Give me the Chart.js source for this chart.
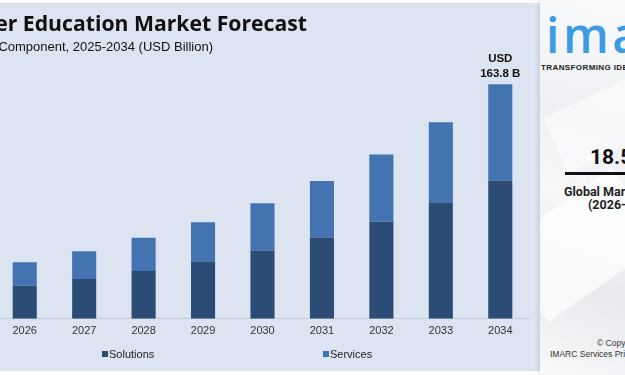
<!DOCTYPE html>
<html>
<head>
<meta charset="utf-8">
<script src="https://cdn.jsdelivr.net/npm/chart.js@4.4.1/dist/chart.umd.min.js"></script>
<style>
html, body { margin: 0; padding: 0; width: 625px; height: 375px; overflow: hidden; background: #ffffff; }
body { position: relative; font-family: "Liberation Sans", Arial, sans-serif; }
.bg { position: absolute; left: 0; top: 3px; width: 540px; height: 368px; background: #dce3f1; }
.chart-box { position: absolute; left: -5px; top: 0; width: 535px; height: 375px; }
.title { position: absolute; right: 318px; top: 9px; font: bold 21.2px "Open Sans", sans-serif; line-height: 27px; color: #111; white-space: nowrap; }
.subtitle { position: absolute; right: 412px; top: 38px; font: 13px "Liberation Sans", Arial, sans-serif; line-height: 17px; color: #111; white-space: nowrap; }
.panel { position: absolute; left: 540px; top: 0; width: 120px; height: 375px;
  background: linear-gradient(200deg, #fafbfc 0%, #eef0f3 35%, #f6f7f9 55%, #e7e9ed 75%, #f8f9fa 100%);
  box-shadow: -2px 0 4px rgba(60, 70, 90, 0.12); overflow: hidden; }
.panel .shape1 { position: absolute; left: -30px; top: 200px; width: 140px; height: 90px; background: rgba(255,255,255,0.7); transform: rotate(-35deg); }
.panel .shape2 { position: absolute; left: 10px; top: 90px; width: 120px; height: 60px; background: rgba(255,255,255,0.5); transform: rotate(-25deg); }
.logo { position: absolute; left: 6px; top: 5px; font: 600 48px "Open Sans", sans-serif; line-height: 60px; color: #3d9be6; letter-spacing: 3.5px; }
.tagline { position: absolute; left: 1px; top: 63px; font: bold 8px "Liberation Sans", sans-serif; color: #222; white-space: nowrap; letter-spacing: 0.4px; }
.big { position: absolute; left: 50px; top: 145px; font: bold 21px Roboto, sans-serif; line-height: 24px; color: #111; white-space: nowrap; }
.rule { position: absolute; left: 25px; top: 172px; width: 100px; height: 2.5px; background: #111; }
.growth { position: absolute; left: 24px; top: 184px; font: bold 12.5px Roboto, sans-serif; line-height: 16px; color: #222; white-space: nowrap; }
.years { position: absolute; left: 48px; top: 197px; font: bold 12.5px Roboto, sans-serif; line-height: 16px; color: #222; white-space: nowrap; }
.copy1 { position: absolute; left: 57px; top: 337px; font: 8.5px "Liberation Sans", sans-serif; line-height: 12px; color: #333; white-space: nowrap; }
.copy2 { position: absolute; left: 10px; top: 348px; font: 8.5px "Liberation Sans", sans-serif; line-height: 12px; color: #333; white-space: nowrap; }
</style>
</head>
<body>
<div class="bg"></div>
<div class="chart-box"><canvas id="chart"></canvas></div>
<div class="title">Higher Education Market Forecast</div>
<div class="subtitle">By Component, 2025-2034 (USD Billion)</div>
<div class="panel">
  <div class="shape2"></div>
  <div class="shape1"></div>
  <div class="logo">imarc</div>
  <div class="tagline">TRANSFORMING IDEAS INTO IMPACT</div>
  <div class="big">18.5%</div>
  <div class="rule"></div>
  <div class="growth">Global Market Growth Rate</div>
  <div class="years">(2026-2034)</div>
  <div class="copy1">© Copyright</div>
  <div class="copy2">IMARC Services Private Limited</div>
</div>
<script>
// values (USD Billion)
const years = ["2026", "2027", "2028", "2029", "2030", "2031", "2032", "2033", "2034"];
const solutions = [23.1, 27.8, 33.4, 39.7, 47.7, 56.8, 67.8, 80.8, 96.5];
const services = [16.4, 19.4, 23.2, 27.8, 32.9, 39.4, 46.9, 56.4, 67.3];
const series_names = ["Solutions", "Services"];
const series_colors = ["#2c4c75", "#4473b1"];

// label over the last bar
const topLabel = {
    id: 'topLabel',
    afterDatasetsDraw(chart) {
        const ctx = chart.ctx;
        const meta = chart.getDatasetMeta(1);
        const last = meta.data.length - 1;
        const bar = meta.data[last];
        const total = solutions[last] + services[last];
        ctx.save();
        ctx.fillStyle = "#111";
        ctx.font = "bold 11.5px 'Liberation Sans', Arial, sans-serif";
        ctx.textAlign = "center";
        ctx.textBaseline = "middle";
        ctx.fillText("USD", bar.x, bar.y - 25);
        ctx.fillText(total.toFixed(1) + " B", bar.x, bar.y - 10.5);
        ctx.restore();
    }
};

// legend sits centred under the full (cropped) chart, so draw it by hand
const legendX = [107, 328];
const bottomLegend = {
    id: 'bottomLegend',
    afterDraw(chart) {
        const ctx = chart.ctx;
        const y = 354;
        ctx.save();
        ctx.font = "11px 'Liberation Sans', Arial, sans-serif";
        ctx.textBaseline = "middle";
        ctx.textAlign = "left";
        chart.data.datasets.forEach((ds, i) => {
            ctx.fillStyle = ds.backgroundColor;
            ctx.fillRect(legendX[i], y - 3, 6, 6);
            ctx.fillStyle = "#222";
            ctx.fillText(ds.label, legendX[i] + 7, y + 0.5);
        });
        ctx.restore();
    }
};

const ctx = document.getElementById('chart').getContext('2d');
const chart = new Chart(ctx, {
    type: 'bar',
    data: {
        labels: years,
        datasets: [{
            label: series_names[0],
            data: solutions,
            backgroundColor: series_colors[0],
            borderWidth: 0
        }, {
            label: series_names[1],
            data: services,
            backgroundColor: series_colors[1],
            borderWidth: 0
        }]
    },
    options: {
        responsive: true,
        maintainAspectRatio: false,
        animation: false,
        events: [],
        layout: {
            padding: { top: 61, bottom: 31, left: 0, right: 0 }
        },
        categoryPercentage: 0.405,
        barPercentage: 1,
        plugins: {
            legend: { display: false },
            tooltip: { enabled: false },
            title: { display: false }
        },
        scales: {
            x: {
                stacked: true,
                offset: true,
                grid: { display: false, drawTicks: false },
                border: { display: true, color: "#c6ccd9", width: 1 },
                ticks: {
                    padding: 6,
                    color: "#333",
                    font: { family: "'Liberation Sans', Arial, sans-serif", size: 11 },
                    maxRotation: 0,
                    autoSkip: false
                }
            },
            y: {
                stacked: true,
                display: false,
                min: 0,
                max: 180
            }
        }
    },
    plugins: [topLabel, bottomLegend]
});
</script>
</body>
</html>
